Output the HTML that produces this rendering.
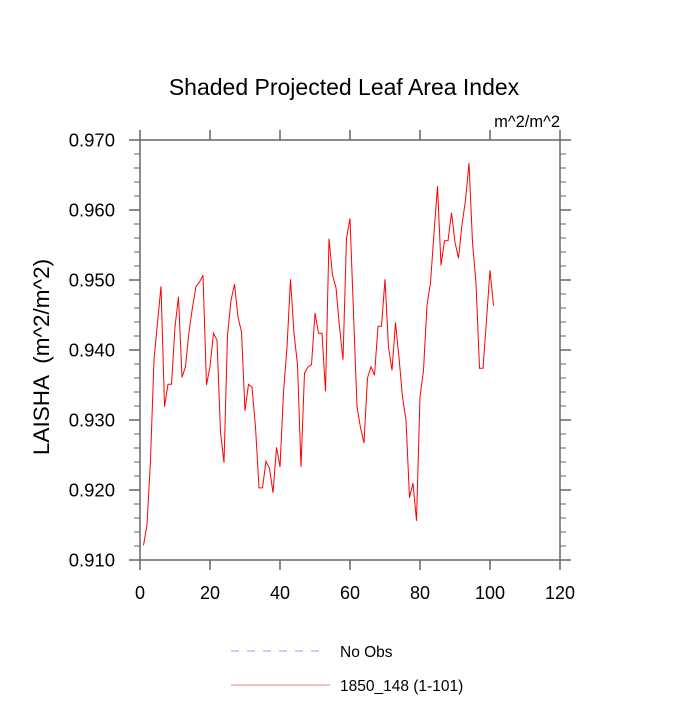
<!DOCTYPE html>
<html><head><meta charset="utf-8"><style>
body{margin:0;background:#fff}
svg text{font-family:"Liberation Sans",sans-serif;fill:#000}
</style></head><body>
<svg width="700" height="700" xmlns="http://www.w3.org/2000/svg">
<text x="344" y="95" font-size="23" text-anchor="middle">Shaded Projected Leaf Area Index</text>
<text x="560" y="127" font-size="16.5" text-anchor="end">m^2/m^2</text>
<text transform="translate(49,357) rotate(-90)" font-size="22.5" text-anchor="middle" xml:space="preserve">LAISHA  (m^2/m^2)</text>
<g id="axes"></g>
<polyline id="series" fill="none" stroke="#ff0000" stroke-width="1"/>
<g>
<line x1="231" y1="651" x2="327" y2="651" stroke="#9999ff" stroke-width="1" stroke-dasharray="8,8"/>
<text x="340" y="657" font-size="15.5">No Obs</text>
<line x1="231" y1="685" x2="330" y2="685" stroke="#f08080" stroke-width="1"/>
<text x="340" y="691" font-size="15.5">1850_148 (1-101)</text>
</g>
</svg>
<script>
const xTicks=[0,20,40,60,80,100,120];
const yTicks=[0.910,0.920,0.930,0.940,0.950,0.960,0.970];
const yTickLabels=["0.910","0.920","0.930","0.940","0.950","0.960","0.970"];
const values=[0.9121,0.915,0.9243,0.9386,0.9439,0.9491,0.9319,0.9351,0.9351,0.9433,0.9476,0.9361,0.9376,0.9426,0.9461,0.9491,0.9497,0.9507,0.935,0.9376,0.9424,0.9414,0.9283,0.9239,0.9421,0.9471,0.9494,0.9447,0.9426,0.9313,0.9351,0.9347,0.929,0.9203,0.9203,0.9241,0.9231,0.9196,0.9261,0.9233,0.9339,0.9404,0.9501,0.9424,0.9379,0.9233,0.9367,0.9376,0.9379,0.9453,0.9424,0.9424,0.9341,0.9559,0.9507,0.9489,0.9433,0.9386,0.956,0.9588,0.9453,0.9319,0.9289,0.9267,0.936,0.9376,0.9364,0.9434,0.9434,0.9501,0.9404,0.9371,0.9439,0.9389,0.9333,0.93,0.9189,0.921,0.9156,0.9333,0.9371,0.9464,0.9496,0.9567,0.9634,0.9521,0.9556,0.9556,0.9596,0.9554,0.9531,0.9579,0.9614,0.9667,0.9554,0.9496,0.9374,0.9374,0.9443,0.9514,0.9463];
const L=140,R=560,T=140,B=560;
const sx=v=>L+(v-0)/(120-0)*(R-L);
const sy=v=>B-(v-0.910)/(0.970-0.910)*(B-T);
const ns="http://www.w3.org/2000/svg";
const ax=document.getElementById('axes');
function mk(tag,attrs){const e=document.createElementNS(ns,tag);for(const k in attrs)e.setAttribute(k,attrs[k]);ax.appendChild(e);return e;}
const C="#666666";
let f=mk('rect',{x:L,y:T,width:R-L,height:B-T,fill:'none',stroke:C,'stroke-width':1.5});


xTicks.forEach(v=>{
 const x=sx(v);
 let a=mk('line',{x1:x,y1:B,x2:x,y2:B+10,stroke:C,'stroke-width':1.5});
 
 
 let b=mk('line',{x1:x,y1:T,x2:x,y2:T-10,stroke:C,'stroke-width':1.5});
 
 
 let t=mk('text',{x:x,y:B+39,'font-size':18,'text-anchor':'middle'});t.textContent=v;
 
 
});
yTicks.forEach((v,i)=>{
 const y=sy(v);
 let a=mk('line',{x1:L-11,y1:y,x2:L,y2:y,stroke:C,'stroke-width':1.5});
 
 
 let b=mk('line',{x1:R,y1:y,x2:R+11,y2:y,stroke:C,'stroke-width':1.5});
 
 
 let t=mk('text',{x:L-25,y:y+6.5,'font-size':18.5,'text-anchor':'end'});t.textContent=yTickLabels[i];
 
 
 if(i<yTicks.length-1){for(let k=1;k<5;k++){const ym=sy(v+0.002*k);
  let m=mk('line',{x1:L-6,y1:ym,x2:L,y2:ym,stroke:C,'stroke-width':1});
  
  
  let m2=mk('line',{x1:R,y1:ym,x2:R+6,y2:ym,stroke:C,'stroke-width':1});
  
  
 }}
});
document.getElementById('series').setAttribute('points',values.map((v,i)=>sx(i+1)+','+sy(v)).join(' '));
</script>
</body></html>
